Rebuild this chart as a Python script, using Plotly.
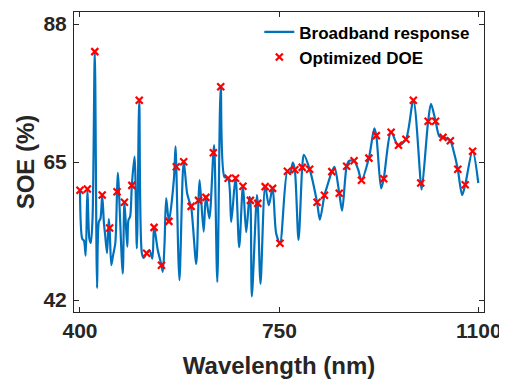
import plotly.graph_objects as go

# Broadband response (key points of the curve, nm / %)
wl_curve = [400, 404, 407, 410, 413, 416.5, 419, 422, 426, 430, 433, 436, 439, 442, 444, 447.5,
            450.5, 452, 455, 458, 462, 465, 466.5, 475, 478, 483, 485, 488, 491, 495.7, 499.8,
            504, 508.6, 512, 517, 522, 527, 530, 536.6, 543, 545.4, 548.4, 551.3, 556, 564.7,
            567.7, 569, 574.5, 582, 588, 592, 595, 604, 608, 610, 617, 621, 627, 634, 635.5,
            641, 647, 653.6, 660, 665.4, 673, 679.4, 686, 691.7, 697.5, 699, 701.6, 710.5, 712,
            716.8, 725, 731.4, 738, 744.3, 751, 764, 768.8, 773.5, 777, 783.5, 790, 792.8, 803,
            816, 821, 829, 832.6, 842, 846.6, 855, 860, 868, 872.5, 881, 888, 894, 907, 916.5,
            920, 928.5, 933, 946, 958.5, 972, 985, 998, 999.8, 1011, 1016, 1024, 1031, 1037,
            1042.6, 1050, 1056, 1063, 1070.6, 1076, 1089, 1099]
soe_curve = [60.3, 52.2, 51.9, 49.4, 60.5, 52.2, 51.5, 55.5, 83.5, 44.0, 55.0, 55.6, 59.5, 54.8,
             53.0, 49.8, 55.5, 54.0, 47.8, 49.4, 51.5, 60.05, 63.2, 46.4, 58.3, 50.9, 55.3, 55.9,
             61.1, 65.9, 50.6, 75.4, 49.8, 49.0, 49.8, 50.3, 48.9, 54.2, 50.3, 47.8, 46.7, 51.5,
             59.0, 55.1, 62.0, 67.6, 64.2, 45.3, 65.1, 59.8, 58.4, 57.6, 48.0, 58.6, 62.0, 53.4,
             59.3, 55.6, 66.55, 67.8, 45.0, 77.7, 62.5, 62.3, 55.0, 62.5, 50.8, 61.1, 53.3, 59.2,
             58.6, 42.6, 59.5, 58.1, 44.7, 60.9, 57.8, 60.7, 53.1, 51.45, 63.45, 63.1, 64.9, 63.7,
             52.0, 64.1, 66.2, 63.8, 58.3, 55.4, 59.45, 60.6, 63.4, 64.2, 59.8, 56.9, 64.3, 65.2,
             65.2, 63.8, 61.95, 65.65, 70.6, 69.4, 60.6, 62.2, 70.0, 67.7, 68.8, 75.3, 61.5, 60.4,
             71.8, 74.7, 71.8, 69.2, 69.1, 68.95, 68.55, 66.7, 63.8, 59.5, 61.2, 66.9, 61.5]

# Optimized DOE samples
wl_doe = [400, 413, 426, 439, 452, 465, 478, 491, 504, 517, 530, 543, 556, 569, 582, 595, 608,
          621, 634, 647, 660, 673, 686, 699, 712, 725, 738, 751, 764, 777, 790, 803, 816, 829,
          842, 855, 868, 881, 894, 907, 920, 933, 946, 959, 972, 985, 998, 1011, 1024, 1037,
          1050, 1063, 1076, 1089]
soe_doe = [60.3, 60.5, 83.4, 59.5, 54.0, 60.05, 58.3, 61.1, 75.3, 49.8, 54.1, 47.8, 55.1, 64.2,
           65.05, 57.6, 58.6, 59.1, 66.55, 77.55, 62.3, 62.3, 60.95, 58.6, 58.1, 60.9, 60.6,
           51.45, 63.45, 63.7, 64.1, 63.8, 58.3, 59.45, 63.4, 59.8, 64.3, 65.2, 61.95, 65.65,
           69.4, 62.2, 69.95, 67.8, 68.8, 75.3, 61.5, 71.8, 71.8, 69.1, 68.55, 63.8, 61.2, 66.8]

x_ticks = [400, 750, 1100]
y_ticks = [42, 65, 88]

TXT = "#262626"
FONT = "Liberation Sans"

fig = go.Figure()
fig.add_trace(go.Scatter(x=wl_curve, y=soe_curve, mode="lines", name="<b>Broadband response</b>",
                         line=dict(color="#0072BD", width=2.2, shape="spline", smoothing=0.8)))
fig.add_trace(go.Scatter(x=wl_doe, y=soe_doe, mode="markers", name="<b>Optimized DOE</b>",
                         marker=dict(symbol="x-thin", size=7, color="red",
                                     line=dict(color="red", width=2.2))))

axis_common = dict(showline=True, linecolor=TXT, linewidth=1, mirror="ticks", ticks="inside",
                   ticklen=5, tickcolor=TXT, showgrid=False, zeroline=False, automargin=False,
                   tickfont=dict(family=FONT, size=21, color=TXT))

fig.update_layout(
    width=499, height=371,
    margin=dict(l=66, r=23, t=4, b=67),
    plot_bgcolor="white", paper_bgcolor="white",
    font=dict(family=FONT, color=TXT),
    showlegend=True,
    legend=dict(x=0.452, y=0.992, xanchor="left", yanchor="top", bgcolor="rgba(0,0,0,0)",
                font=dict(family=FONT, size=17, color="black"), tracegroupgap=0),
    xaxis=dict(range=[389.5, 1109], tickvals=x_ticks, ticktext=[f"<b>{v}</b>" for v in x_ticks],
               ticklabelstandoff=0,
               title=dict(text="<b>Wavelength (nm)</b>", font=dict(family=FONT, size=24, color=TXT),
                          standoff=18), **axis_common),
    yaxis=dict(range=[40, 90], tickvals=y_ticks, ticktext=[f"<b>{v}</b>" for v in y_ticks],
               ticklabelstandoff=2,
               title=dict(text="<b>SOE (%)</b>", font=dict(family=FONT, size=24, color=TXT),
                          standoff=2), **axis_common),
)

fig.write_html("out.html")
